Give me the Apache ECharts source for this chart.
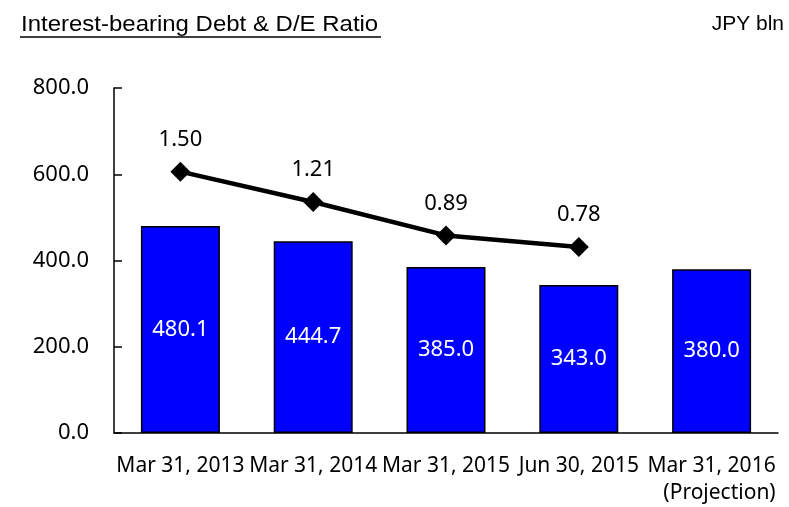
<!DOCTYPE html>
<html>
<head>
<meta charset="utf-8">
<style>
  html, body { margin: 0; padding: 0; background: #fff; }
  #chart { width: 789px; height: 507px; }
</style>
<script src="https://cdn.jsdelivr.net/npm/echarts@6/dist/echarts.min.js"></script>
</head>
<body>
<div id="chart"></div>
<script>
// data
const categories = ['Mar 31, 2013', 'Mar 31, 2014', 'Mar 31, 2015', 'Jun 30, 2015', 'Mar 31, 2016\n(Projection)']
const debtValues = [480.1, 444.7, 385.0, 343.0, 380.0]
const deRatio = [1.50, 1.21, 0.89, 0.78, null]
const yTicks = [0, 200, 400, 600, 800]

const chart = echarts.init(document.getElementById('chart'))

const option = {
  animation: false,
  textStyle: { fontFamily: 'Noto Sans' },
  graphic: [
    {
      type: 'text',
      left: 21,
      top: 14,
      scaleX: 1.09,
      style: {
        text: 'Interest-bearing Debt & D/E Ratio',
        font: '22px "Liberation Sans"',
        fill: '#000'
      }
    },
    {
      type: 'line',
      shape: { x1: 20, y1: 37, x2: 381, y2: 37 },
      style: { stroke: '#000', lineWidth: 1.5 }
    },
    {
      type: 'text',
      right: 5,
      top: 14,
      style: {
        text: 'JPY bln',
        font: '21px "Liberation Sans"',
        fill: '#000'
      }
    }
  ],
  grid: {
    left: 114,
    right: 11,
    top: 88,
    bottom: 71
  },
  xAxis: {
    type: 'category',
    data: categories,
    axisLine: { lineStyle: { color: '#000', width: 1.5 } },
    axisTick: { inside: true, length: 8, lineStyle: { color: '#000', width: 1.5 } },
    axisLabel: {
      interval: 0,
      margin: 20,
      color: '#000',
      fontSize: 21,
      lineHeight: 27,
      formatter: function (v) {
        if (v.indexOf('\n') >= 0) {
          const parts = v.split('\n')
          return parts[0] + '\n{p|' + parts[1] + '}'
        }
        return v
      },
      rich: {
        p: { fontSize: 21, lineHeight: 27, align: 'right', color: '#000' }
      }
    }
  },
  yAxis: [
    {
      type: 'value',
      min: yTicks[0],
      max: yTicks[yTicks.length - 1],
      interval: 200,
      axisLine: { show: true, lineStyle: { color: '#000', width: 1.5 } },
      axisTick: { show: true, inside: true, length: 8, lineStyle: { color: '#000', width: 1.5 } },
      splitLine: { show: false },
      axisLabel: {
        color: '#000',
        fontSize: 22,
        margin: 25,
        formatter: function (v) { return v.toFixed(1) }
      }
    },
    {
      type: 'value',
      min: -1,
      max: 2.3,
      show: false,
      splitLine: { show: false }
    }
  ],
  series: [
    {
      name: 'Interest-bearing Debt',
      type: 'bar',
      data: debtValues,
      barWidth: 79,
      itemStyle: { color: '#0000ff', borderColor: '#000', borderWidth: 1.5 },
      label: {
        show: true,
        position: 'inside',
        color: '#fff',
        fontSize: 22,
        formatter: function (p) { return p.value.toFixed(1) }
      }
    },
    {
      name: 'D/E Ratio',
      type: 'line',
      yAxisIndex: 1,
      data: deRatio,
      symbol: 'diamond',
      symbolSize: 20,
      lineStyle: { color: '#000', width: 4.5 },
      itemStyle: { color: '#000' },
      label: {
        show: true,
        position: 'top',
        distance: 11,
        color: '#000',
        fontSize: 22,
        formatter: function (p) { return p.value.toFixed(2) }
      }
    }
  ]
}

chart.setOption(option)
</script>
</body>
</html>
